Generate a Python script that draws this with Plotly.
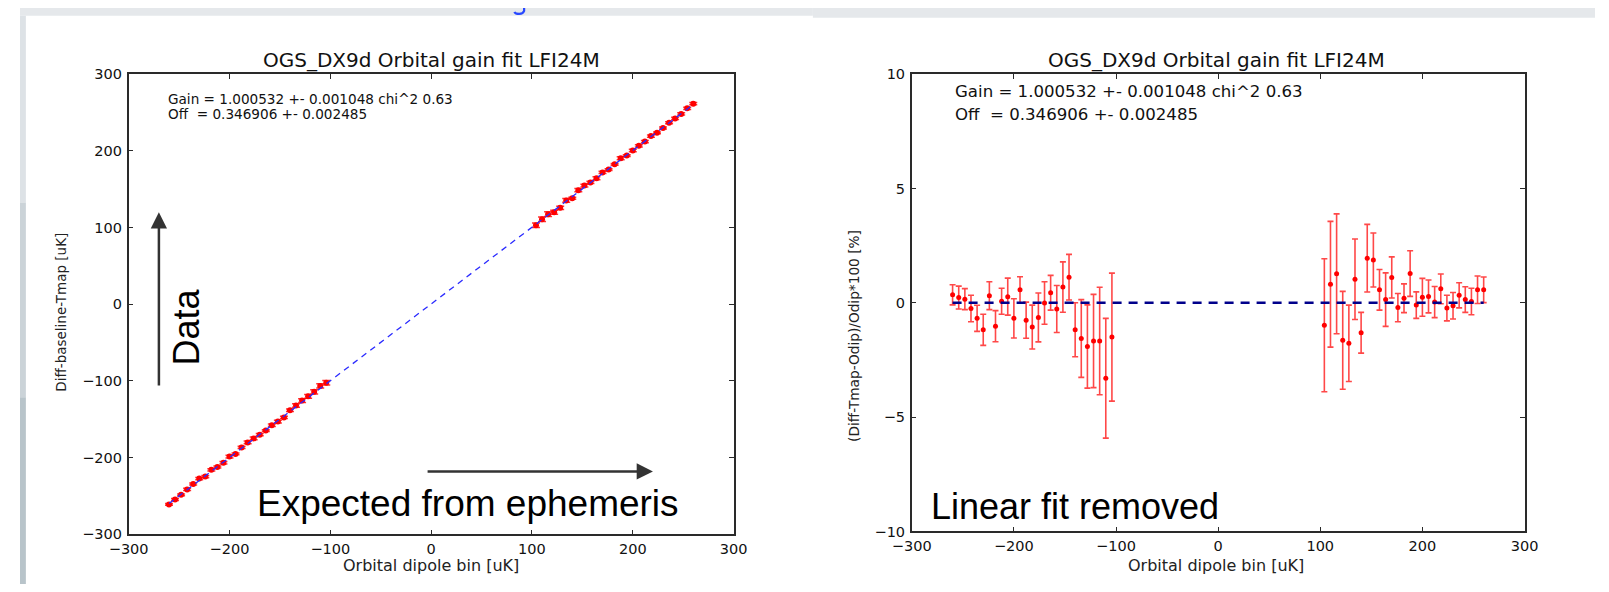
import plotly.graph_objects as go

W, H = 1609, 592

# ---------------- data ----------------
# Orbital dipole bin centres [uK]
x_neg = [-260, -254, -248, -242, -236, -230, -224, -218, -212, -206, -200, -194, -188, -182,
         -176, -170, -164, -158, -152, -146, -140, -134, -128, -122, -116, -110, -104]
x_pos = [104, 110, 116, 122, 128, 134, 140, 146, 152, 158, 164, 170, 176, 182,
         188, 194, 200, 206, 212, 218, 224, 230, 236, 242, 248, 254, 260]

# Left panel: Diff-baseline-Tmap [uK]
data_neg = [-260.9, -254.6, -248.4, -241.4, -234.4, -227.3, -224.7, -215.8, -212.1, -206.6,
            -198.6, -195.1, -186.6, -180.1, -174.9, -170.0, -164.7, -157.6, -153.0, -147.6,
            -138.3, -131.9, -125.6, -120.0, -114.1, -106.4, -102.4]
data_pos = [103.0, 110.9, 117.5, 120.0, 125.7, 135.4, 138.2, 148.8, 154.8, 158.9, 164.2,
            171.9, 175.6, 182.4, 190.4, 193.8, 200.5, 206.6, 212.1, 219.3, 223.5, 229.7,
            236.8, 242.3, 248.1, 255.4, 261.5]
derr_neg = [1.14, 1.27, 1.14, 1.40, 1.35, 1.56, 1.37, 1.48, 1.21, 1.67, 1.72, 1.11, 1.49, 1.75,
            1.88, 1.58, 1.25, 1.63, 1.67, 1.46, 1.65, 2.28, 2.33, 2.49, 2.73, 2.88, 2.91]
derr_pos = [3.03, 3.03, 3.04, 2.61, 2.14, 2.36, 1.25, 2.16, 1.79, 1.41, 1.92, 1.53, 1.09, 1.15,
            1.88, 1.13, 1.66, 1.48, 1.44, 1.42, 1.25, 1.33, 1.30, 1.36, 1.44, 1.52, 1.46]

# Right panel: (Diff-Tmap-Odip)/Odip*100 [%]
res_neg = [0.35, 0.23, 0.16, -0.25, -0.68, -1.18, 0.31, -1.02, 0.07, 0.27, -0.68, 0.57, -0.76,
           -1.06, -0.64, -0.01, 0.44, -0.27, 0.69, 1.12, -1.18, -1.56, -1.91, -1.67, -1.67,
           -3.30, -1.50]
rerr_neg = [0.44, 0.50, 0.46, 0.58, 0.57, 0.68, 0.61, 0.68, 0.57, 0.81, 0.86, 0.57, 0.79, 0.96,
            1.07, 0.93, 0.76, 1.03, 1.10, 1.00, 1.18, 1.70, 1.82, 2.04, 2.35, 2.62, 2.80]
res_pos = [-0.98, 0.81, 1.27, -1.64, -1.77, 1.03, -1.31, 1.95, 1.87, 0.57, 0.14, 1.11, -0.21,
           0.20, 1.28, -0.10, 0.24, 0.28, 0.03, 0.61, -0.23, -0.13, 0.33, 0.14, 0.06, 0.57, 0.57]
rerr_pos = [2.91, 2.75, 2.62, 2.14, 1.67, 1.76, 0.89, 1.48, 1.18, 0.89, 1.17, 0.90, 0.62, 0.63,
            1.00, 0.58, 0.83, 0.72, 0.68, 0.65, 0.56, 0.58, 0.55, 0.56, 0.58, 0.60, 0.56]

# Linear fit lines
fit_x = [-260, 260]
fit_y_left = [-259.8, 260.5]
fit_y_right = [0, 0]

x_ticks = [-300, -200, -100, 0, 100, 200, 300]
y_ticks_left = [-300, -200, -100, 0, 100, 200, 300]
y_ticks_right = [-10, -5, 0, 5, 10]

title_text = "OGS_DX9d Orbital gain fit LFI24M"
gain_text = "Gain = 1.000532 +- 0.001048 chi^2 0.63"
off_text = "Off\u00a0 = 0.346906 +- 0.002485"

# ---------------- figure ----------------
def px(v):
    return v / W

def py(v):
    return 1 - v / H

fig = go.Figure()
RED = "#ff0000"

# Left panel
for xs, ys, es in [(x_neg, data_neg, derr_neg), (x_pos, data_pos, derr_pos)]:
    fig.add_trace(go.Scatter(x=xs, y=ys, mode="markers", marker=dict(color=RED, size=6),
                             error_y=dict(type="data", array=es, color="rgba(255,0,0,0.8)",
                                          thickness=1.5, width=4),
                             xaxis="x", yaxis="y", showlegend=False))
fig.add_trace(go.Scatter(x=fit_x, y=fit_y_left, mode="lines",
                         line=dict(color="#2a2aff", width=1.3, dash="6px,5px"),
                         xaxis="x", yaxis="y", showlegend=False, hoverinfo="skip"))

# Right panel
for xs, ys, es in [(x_neg, res_neg, rerr_neg), (x_pos, res_pos, rerr_pos)]:
    fig.add_trace(go.Scatter(x=xs, y=ys, mode="markers", marker=dict(color=RED, size=5),
                             error_y=dict(type="data", array=es, color="rgba(255,40,40,0.85)",
                                          thickness=1.6, width=3),
                             xaxis="x2", yaxis="y2", showlegend=False))
fig.add_trace(go.Scatter(x=fit_x, y=fit_y_right, mode="lines",
                         line=dict(color="#00008b", width=2.5, dash="9px,7px"),
                         xaxis="x2", yaxis="y2", showlegend=False, hoverinfo="skip"))

FONT = "DejaVu Sans"
axis_common = dict(showline=True, linecolor="#2a2a2a", linewidth=1.5, mirror="ticks",
                   ticks="inside", ticklen=5, tickwidth=1, tickcolor="#2a2a2a",
                   showgrid=False, zeroline=False, fixedrange=True,
                   tickfont=dict(family=FONT, size=14.5, color="#111"))

fig.update_layout(
    width=W, height=H,
    margin=dict(l=0, r=0, t=0, b=0),
    paper_bgcolor="white", plot_bgcolor="white",
    xaxis=dict(domain=[px(111), px(729)], range=[-300, 300], tickvals=x_ticks,
               anchor="y", ticklabelstandoff=0, **axis_common),
    yaxis=dict(domain=[py(541), py(68)], range=[-300, 300], tickvals=y_ticks_left,
               anchor="x", ticklabelstandoff=2, **axis_common),
    xaxis2=dict(domain=[px(911), px(1537)], range=[-300, 300], tickvals=x_ticks,
                anchor="y2", ticklabelstandoff=0, **axis_common),
    yaxis2=dict(domain=[py(538), py(68)], range=[-10, 10], tickvals=y_ticks_right,
                anchor="x2", ticklabelstandoff=2, **axis_common),
)

# Background frame of the slide
shapes = [
    dict(type="rect", xref="paper", yref="paper", x0=0, x1=px(810), y0=py(8), y1=1,
         fillcolor="#e5e8eb", line=dict(width=0), layer="below"),
    dict(type="rect", xref="paper", yref="paper", x0=px(810), x1=1, y0=py(10), y1=1,
         fillcolor="#e5e8eb", line=dict(width=0), layer="below"),
    dict(type="rect", xref="paper", yref="paper", x0=0, x1=px(6), y0=py(200), y1=py(8),
         fillcolor="#dde2e6", line=dict(width=0), layer="below"),
    dict(type="rect", xref="paper", yref="paper", x0=0, x1=px(6), y0=py(400), y1=py(200),
         fillcolor="#cbd3d8", line=dict(width=0), layer="below"),
    dict(type="rect", xref="paper", yref="paper", x0=0, x1=px(6), y0=0, y1=py(400),
         fillcolor="#b8c4ca", line=dict(width=0), layer="below"),
    # tail of a blue heading glyph peeking in at the top edge
    dict(type="path", xref="paper", yref="paper",
         path=(f"M {px(515)},{py(0)} L {px(515)},{py(3)} "
               f"Q {px(514)},{py(6)} {px(510)},{py(6)} Q {px(506)},{py(6)} {px(505)},{py(4)}"),
         line=dict(color="#2848ff", width=2.2), layer="above"),
]
fig.update_layout(shapes=shapes)

ann = []
# titles
for cx in (420, 1222):
    ann.append(dict(text=title_text, xref="paper", yref="paper", x=px(cx), y=py(53),
                    xanchor="center", yanchor="middle", showarrow=False,
                    font=dict(family=FONT, size=20, color="#111")))
# x-axis titles
for cx in (420, 1222):
    ann.append(dict(text="Orbital dipole bin [uK]", xref="paper", yref="paper",
                    x=px(cx), y=py(573), xanchor="center", yanchor="middle", showarrow=False,
                    font=dict(family=FONT, size=16, color="#222")))
# y-axis titles
ann.append(dict(text="Diff-baseline-Tmap [uK]", xref="paper", yref="paper", x=px(41), y=py(313),
                xanchor="center", yanchor="middle", textangle=-90, showarrow=False,
                font=dict(family=FONT, size=13.5, color="#222")))
ann.append(dict(text="(Diff-Tmap-Odip)/Odip*100 [%]", xref="paper", yref="paper", x=px(852),
                y=py(337), xanchor="center", yanchor="middle", textangle=-90, showarrow=False,
                font=dict(family=FONT, size=13.7, color="#222")))
# fit results text
ann.append(dict(text=gain_text, xref="x", yref="y", x=-263, y=268, xanchor="left",
                yanchor="middle", showarrow=False, font=dict(family=FONT, size=13.6, color="#111")))
ann.append(dict(text=off_text, xref="x", yref="y", x=-263, y=248, xanchor="left",
                yanchor="middle", showarrow=False, font=dict(family=FONT, size=13.6, color="#111")))
ann.append(dict(text=gain_text, xref="x2", yref="y2", x=-260, y=9.23, xanchor="left",
                yanchor="middle", showarrow=False, font=dict(family=FONT, size=16.6, color="#111")))
ann.append(dict(text=off_text, xref="x2", yref="y2", x=-260, y=8.25, xanchor="left",
                yanchor="middle", showarrow=False, font=dict(family=FONT, size=16.6, color="#111")))
# Slide annotations
ann.append(dict(text="Data", xref="x", yref="y", x=-243, y=-30, xanchor="center",
                yanchor="middle", textangle=-90, showarrow=False,
                font=dict(family="Liberation Sans", size=36, color="#000")))
ann.append(dict(text="Expected from ephemeris", xref="x", yref="y", x=37, y=-259.5,
                xanchor="center", yanchor="middle", showarrow=False,
                font=dict(family="Liberation Sans", size=37, color="#000")))
ann.append(dict(text="Linear fit removed", xref="x2", yref="y2", x=-140, y=-8.89,
                xanchor="center", yanchor="middle", showarrow=False,
                font=dict(family="Liberation Sans", size=36, color="#000")))
# arrows
ann.append(dict(text="", xref="x", yref="y", x=-270, y=120, axref="x", ayref="y",
                ax=-270, ay=-108, showarrow=True, arrowhead=2, arrowsize=1.3,
                arrowwidth=2.5, arrowcolor="#333"))
ann.append(dict(text="", xref="x", yref="y", x=220, y=-218, axref="x", ayref="y",
                ax=-5, ay=-218, showarrow=True, arrowhead=2, arrowsize=1.3,
                arrowwidth=2.5, arrowcolor="#333"))
fig.update_layout(annotations=ann)

# pin the figure to the window's top-left corner so the page never overflows
post = ("document.documentElement.style.overflow='hidden';"
        "document.body.style.margin='0';"
        "document.body.style.overflow='hidden';"
        "var d=document.querySelector('.plotly-graph-div');"
        "if(d){d.style.position='fixed';d.style.left='0px';d.style.top='0px';}")
fig.write_html("out.html", post_script=post)
